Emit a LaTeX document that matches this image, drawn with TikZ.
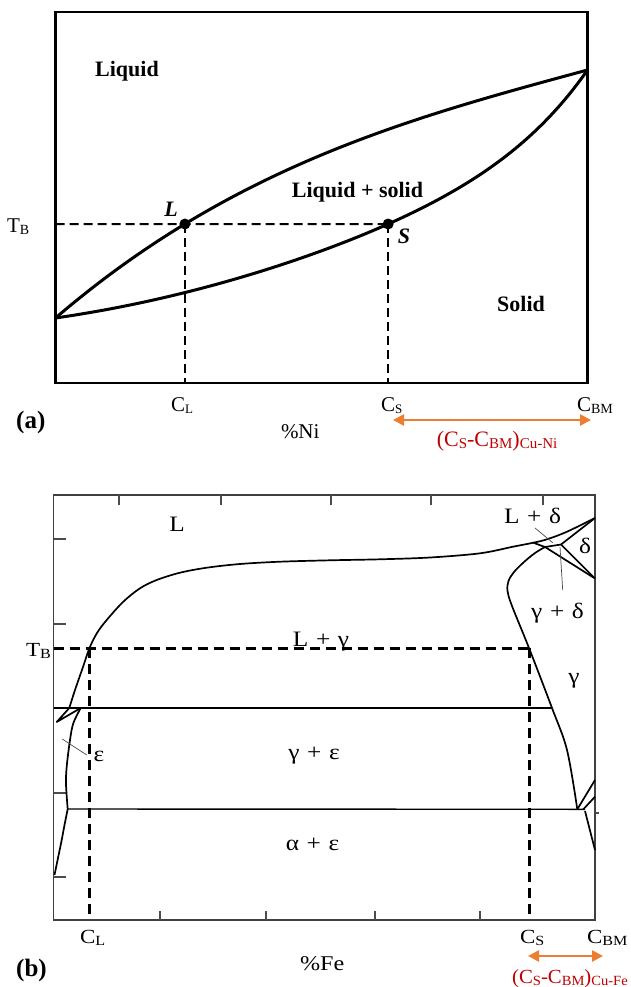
\documentclass[tikz,border=0pt]{standalone}
\usepackage{fontspec}
\setmainfont{Liberation Serif}
\usepackage{graphicx}
\usetikzlibrary{arrows.meta,intersections}
\definecolor{arrorange}{HTML}{ED7D31}
\definecolor{labred}{HTML}{C00000}
\newcommand\fsz[1]{\fontsize{#1}{#1}\selectfont}
\newcommand\lsub[2]{\raisebox{-2.5pt}{\fsz{#1}#2}}
\newcommand\hx[1]{\scalebox{1.15}[1]{#1}}
\newcommand\pls{\hspace{0.3em}+\hspace{0.3em}}
\begin{document}
\begin{tikzpicture}[x=1pt,y=-1pt,
  txt/.style={inner sep=0pt,outer sep=0pt,font=\fsz{20}},
  boldlab/.style={inner sep=0pt,outer sep=0pt,font=\fsz{22}\bfseries},
  curveA/.style={line width=3pt,line join=round,line cap=round},
  dashA/.style={line width=2pt,dash pattern=on 9pt off 5pt},
  frameB/.style={line width=1.5pt,draw=black!75},
  tickB/.style={line width=1.2pt,draw=black!70},
  curveB/.style={line width=1.7pt,line join=round},
  hlineB/.style={line width=1.4pt},
  dashB/.style={line width=3pt,dash pattern=on 10pt off 6pt},
  leader/.style={line width=0.7pt,draw=black!70},
  dim/.style={draw=arrorange,line width=2.6pt,{Triangle[length=11pt,width=11pt]}-{Triangle[length=11pt,width=11pt]}},
]
\useasboundingbox (0,0) rectangle (630,987);
\fill[white] (0,0) rectangle (630,987);

% ================= Panel (a) =================
\draw[line width=2.8pt] (55.5,12) rectangle (587.5,383);
\coordinate (abot) at (0,383);
\draw[curveA,name path=liq] plot[domain=0:1,samples=120,variable=\u]
  ({55.5+532*\u},{318-248*(0.58*\u+0.42*(1-(1-\u)*(1-\u)*(1-\u)))});
\draw[curveA,name path=sol] plot[domain=0:1,samples=120,variable=\u]
  ({55.5+532*\u},{318-248*(0.31*\u+0.46*\u*\u+0.23*(\u*\u*\u*\u)*(\u*\u*\u*\u))});
\path[name path=tbline] (55.5,224) -- (587.5,224);
\path[name intersections={of=liq and tbline,by=L}];
\path[name intersections={of=sol and tbline,by=S}];
\coordinate (tbA) at (55.5,224);
\draw[dashA] (tbA) -- (S);
\draw[dashA] (L) -- (L |- abot);
\draw[dashA] (S) -- (S |- abot);
\fill (L) circle[radius=5.5pt];
\fill (S) circle[radius=5.5pt];

\node[boldlab,anchor=base] (liquid) at (127,76.5) {Liquid};
\node[boldlab,anchor=base] (ls) at (357.5,197) {Liquid + solid};
\node[boldlab,anchor=base] (solid) at (521,311) {Solid};
\node[boldlab,anchor=base] (Llab) at (171,216) {\textit{L}};
\node[boldlab,anchor=base] (Slab) at (404,243) {\textit{S}};
\node[txt,anchor=base west,font=\fsz{21}] (TBa) at (7,232) {T\lsub{14}{B}};
\node[txt,anchor=base west,font=\fsz{21}] (CLa) at (171,411) {C\lsub{13}{L}};
\node[txt,anchor=base west,font=\fsz{21}] (CSa) at (381,411) {C\lsub{13}{S}};
\node[txt,anchor=base west,font=\fsz{21}] (CBMa) at (577,411) {C\lsub{14}{BM}};
\node[inner sep=0pt,anchor=base west,font=\fsz{25}\bfseries] (panA) at (16,428) {(a)};
\node[txt,anchor=base west,font=\fsz{21}] (Ni) at (281,438) {\%Ni};
\coordinate (arA1) at (393,420);
\coordinate (arA2) at (591,420);
\draw[dim] (arA1) -- (arA2);
\node[inner sep=0pt,anchor=base,text=labred,font=\fsz{22}] (redA) at (497,446)
  {(C\lsub{15}{S}-C\lsub{15}{BM})\lsub{15}{Cu-Ni}};

% ================= Panel (b) =================
\draw[frameB] (53.5,495) rectangle (595,920);
\foreach \xx in {119,221,331,431,543} \draw[tickB] (\xx,495) -- (\xx,505);
\foreach \xx in {160,266,375,480} \draw[tickB] (\xx,920) -- (\xx,911);
\foreach \yy in {539,624,793,877} \draw[tickB] (53.5,\yy) -- (65.5,\yy);
\draw[tickB] (595,813) -- (599,813);

% key points
\coordinate (PL) at (533.3,542.7);
\coordinate (PG) at (545,547);
\coordinate (PD) at (561,544.5);
\coordinate (TR) at (595,518);
\coordinate (ER) at (595,578.5);
\coordinate (LT) at (69.3,708);
\coordinate (EA) at (80.7,708);
\coordinate (TIP) at (56.7,722);
\coordinate (EB) at (67.7,809);
\coordinate (GB) at (577.3,809.3);

% liquidus
\draw[curveB] plot[smooth,tension=0.55] coordinates
  {(69.3,708) (75,690) (83,667) (89.5,648) (97,633) (106.7,620) (123.3,601.7) (140,588.3) (156.7,580) (180,572.7) (206.7,567.7) (240,564) (280,561.7) (330,560.3) (380,559.3) (430,557.5) (480,553.3) (513,546.7) (533.3,542.7) (547,539.3) (567,531.7) (595,518)};
% peritectic region
\draw[curveB] (PL) -- (PG) -- (PD) -- (TR);
\draw[curveB] (PD) -- (ER);
\draw[curveB] (PG) -- (ER);
% gamma boundary
\draw[curveB] plot[smooth,tension=0.55] coordinates
  {(545,547) (535,553) (524,562) (514,572) (508.5,581) (507.5,591) (512,606) (529,648) (552,708) (567,750) (577.3,809.3)};
% horizontal lines
\draw[hlineB] (53.5,708) -- (552,708);
\draw[hlineB] (EB) -- (585,809.3);
% left epsilon structure
\draw[curveB] (LT) -- (TIP) -- (EA);
\draw[curveB] plot[smooth,tension=0.55] coordinates
  {(80.7,708) (73.3,723.3) (70,740) (66.7,766.7) (66,784) (67.7,809)};
\draw[curveB] plot[smooth,tension=0.55] coordinates
  {(67.7,809) (64.5,825) (61.7,840) (58,858) (54.5,875)};
% right bottom structure
\draw[curveB] (GB) -- (595,780);
\draw[curveB] (583.3,809.3) -- (595,796.7);
\draw[curveB] (585,811) -- (595,850);

% dashed construction lines
\coordinate (tbB) at (53.5,648);
\coordinate (clB) at (89.5,648);
\coordinate (csB) at (529,648);
\coordinate (bbot) at (0,920);
\draw[dashB] (tbB) -- (csB);
\draw[dashB] (clB) -- (clB |- bbot);
\draw[dashB] (csB) -- (csB |- bbot);

% leaders
\draw[leader] (535,528) -- (552.7,542.7);
\draw[leader] (560,547) -- (562.7,590);
\draw[leader] (62.3,739) -- (86.7,755);

% labels panel b
\node[txt,anchor=base,font=\fsz{22}] (Lb) at (177,531.7) {\hx{L}};
\node[txt,anchor=base,font=\fsz{22}] (LG) at (321,646.7) {\hx{L\pls γ}};
\node[txt,anchor=base,font=\fsz{22}] (GE) at (314,759) {\hx{γ\pls ε}};
\node[txt,anchor=base,font=\fsz{22}] (AE) at (312.5,850) {\hx{α\pls ε}};
\node[txt,anchor=base,font=\fsz{22}] (LD) at (532.5,523) {\hx{L\pls δ}};
\node[txt,anchor=base,font=\fsz{22}] (D) at (585,553) {\hx{δ}};
\node[txt,anchor=base,font=\fsz{22}] (GD) at (557.5,618) {\hx{γ\pls δ}};
\node[txt,anchor=base,font=\fsz{22}] (G) at (574,683) {\hx{γ}};
\node[txt,anchor=base,font=\fsz{22}] (E) at (99,761.7) {\hx{ε}};
\node[txt,anchor=base west] (TBb) at (26,656) {\hx{T\lsub{14}{B}}};
\node[txt,anchor=base west] (CLb) at (80,943) {\hx{C\lsub{14}{L}}};
\node[txt,anchor=base west] (CSb) at (520,943) {\hx{C\lsub{14}{S}}};
\node[txt,anchor=base west] (CBMb) at (587,943) {\hx{C\lsub{14}{BM}}};
\node[inner sep=0pt,anchor=base west,font=\fsz{25}\bfseries] (panB) at (16,976) {(b)};
\node[txt,anchor=base west,font=\fsz{21}] (Fe) at (300,970) {\hx{\%Fe}};
\coordinate (arB1) at (528,956);
\coordinate (arB2) at (603,956);
\draw[dim] (arB1) -- (arB2);
\node[inner sep=0pt,anchor=base east,text=labred,font=\fsz{20}] (redB) at (628,983)
  {\scalebox{1.04}[1]{(C\lsub{14}{S}-C\lsub{14}{BM})\lsub{14}{Cu-Fe}}};
\end{tikzpicture}
\end{document}
